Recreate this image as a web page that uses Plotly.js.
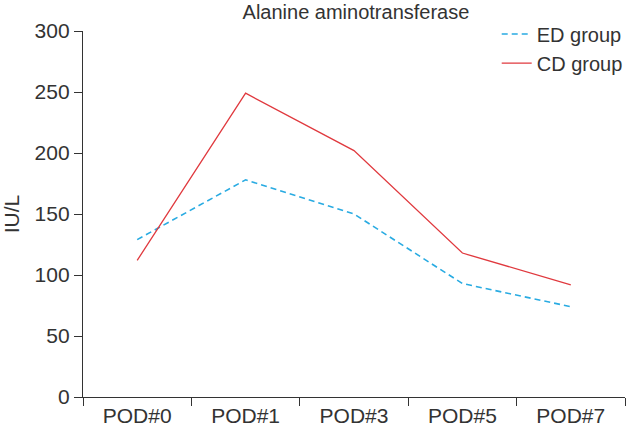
<!DOCTYPE html>
<html>
<head>
<meta charset="utf-8">
<script src="https://cdn.plot.ly/plotly-3.0.1.min.js"></script>
<style>html,body{margin:0;padding:0;background:#fff;}#chart{width:630px;height:429px;}</style>
</head>
<body>
<div id="chart"></div>
<script>
const categories = ["POD#0", "POD#1", "POD#3", "POD#5", "POD#7"];
const edGroup = [129, 178, 150, 93, 74];
const cdGroup = [112, 249, 202, 118, 92];
const yTicks = [0, 50, 100, 150, 200, 250, 300];

const font = {family: "Liberation Sans, Arial, sans-serif", color: "#333333"};

const data = [
  {x: categories, y: edGroup, name: "ED group", type: "scatter", mode: "lines",
   line: {color: "#29abe2", width: 1.6, dash: "6px,4px"}},
  {x: categories, y: cdGroup, name: "CD group", type: "scatter", mode: "lines",
   line: {color: "#e0393e", width: 1.3}}
];

const layout = {
  width: 630, height: 429,
  margin: {l: 83, r: 2, t: 31, b: 32},
  paper_bgcolor: "#fff", plot_bgcolor: "#fff",
  font: Object.assign({size: 21}, font),
  title: {text: "Alanine aminotransferase", font: Object.assign({size: 20}, font),
          x: 0.565, xanchor: "center", y: 0.973, yanchor: "middle"},
  showlegend: true,
  legend: {x: 1.005, xanchor: "right", y: 1.045, yanchor: "top", bgcolor: "rgba(0,0,0,0)",
           font: Object.assign({size: 20}, font), tracegroupgap: 0},
  xaxis: {type: "category", range: [-0.5, 4.5], tickson: "boundaries",
          showline: true, linecolor: "#333", linewidth: 1.2, ticks: "outside",
          ticklen: 8, tickcolor: "#333", showgrid: false, zeroline: false,
          tickfont: Object.assign({size: 21}, font), fixedrange: true},
  yaxis: {range: [0, 300], tickvals: yTicks, ticktext: yTicks.map(String),
          showline: true, linecolor: "#333", linewidth: 1.2, ticks: "outside",
          ticklen: 8, tickcolor: "#333", showgrid: false, zeroline: false,
          tickfont: Object.assign({size: 21}, font),
          title: {text: "IU/L", font: Object.assign({size: 21}, font), standoff: 14}}
};

Plotly.newPlot("chart", data, layout, {displayModeBar: false, staticPlot: true});
</script>
</body>
</html>
